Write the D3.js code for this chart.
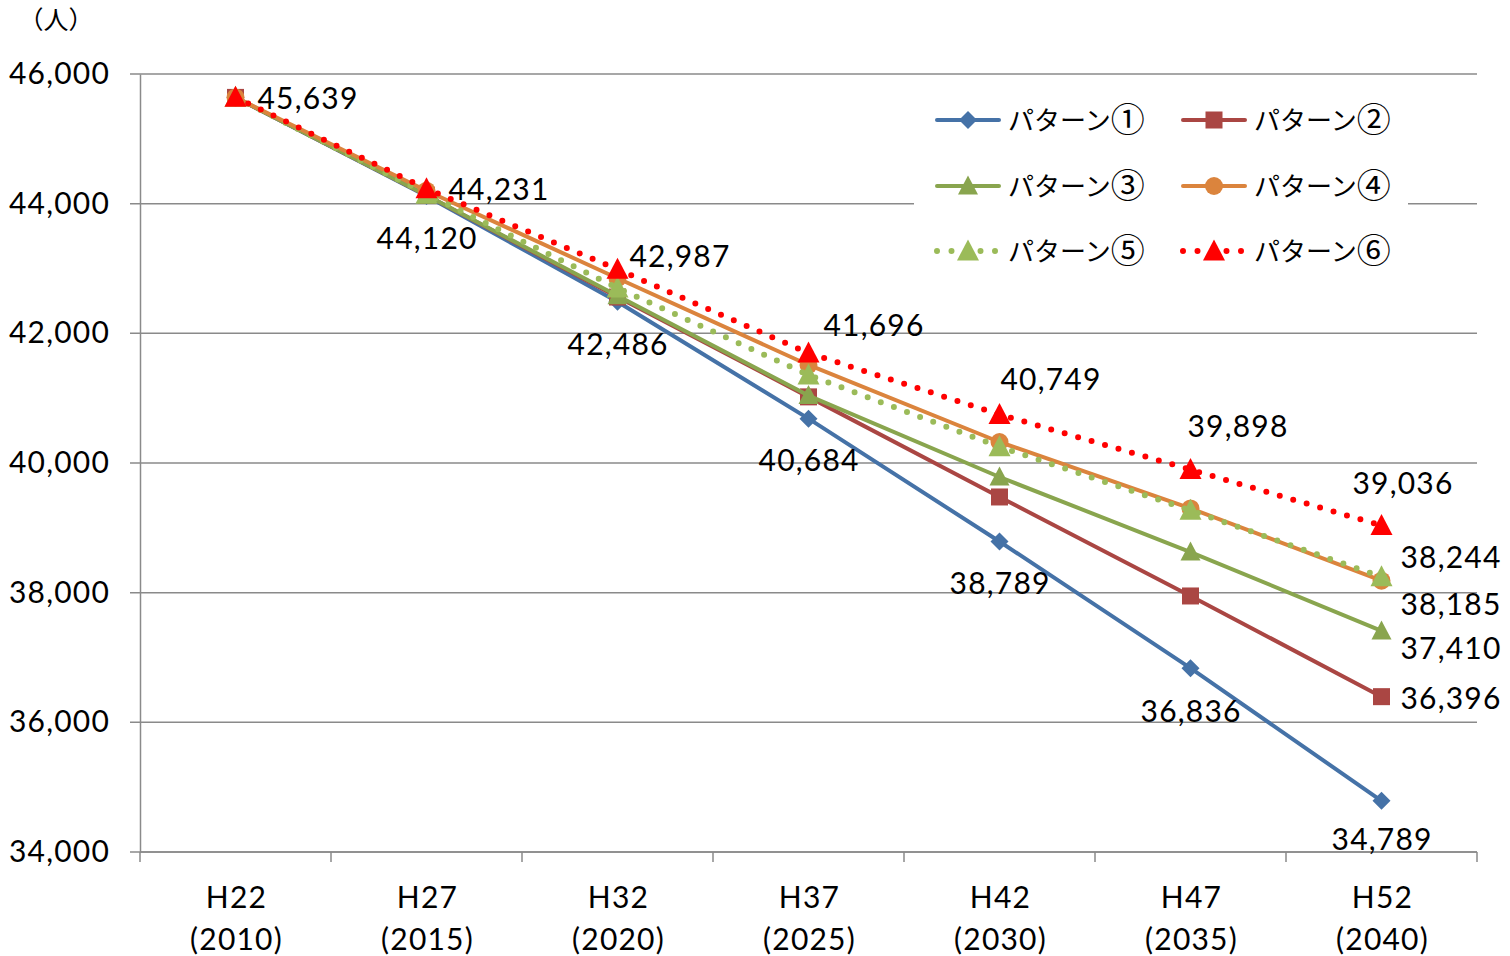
<!DOCTYPE html>
<html><head><meta charset="utf-8">
<script src="https://cdn.jsdelivr.net/npm/d3@7"></script>
<style>
html,body{margin:0;padding:0;background:#fff;}
svg{display:block;}
</style></head>
<body>
<svg id="chart" width="1510" height="956"></svg>
<script>
// ---- data ----
const categories = ["H22","H27","H32","H37","H42","H47","H52"];
const years = ["(2010)","(2015)","(2020)","(2025)","(2030)","(2035)","(2040)"];
const seriesNames = ["パターン①","パターン②","パターン③","パターン④","パターン⑤","パターン⑥"];
const pattern1 = [45639,44120,42486,40684,38789,36836,34789];
const pattern2 = [45639,44130,42560,41020,39476,37949,36396];
const pattern3 = [45639,44130,42580,41040,39784,38627,37410];
const pattern4 = [45639,44200,42850,41512,40324,39300,38185];
const pattern5 = [45639,44150,42700,41358,40250,39270,38244];
const pattern6 = [45639,44231,42987,41696,40749,39898,39036];
const yTicks = [34000,36000,38000,40000,42000,44000,46000];
const unitLabel = "（人）";

// ---- styles ----
const styles = [
  {color:"#4572A7", dotted:false, marker:"diamond"},
  {color:"#AA4643", dotted:false, marker:"square"},
  {color:"#89A54E", dotted:false, marker:"triangleS"},
  {color:"#DB843D", dotted:false, marker:"circle"},
  {color:"#9BBB59", dotted:true,  marker:"triangle"},
  {color:"#FF0000", dotted:true,  marker:"triangle"}
];
const allSeries = [pattern1,pattern2,pattern3,pattern4,pattern5,pattern6];

// label layout: [seriesIndex, pointIndex, dx, dy, anchor]
const labelLayout = [
  [5,0,22,1,"start"],[5,1,22,1,"start"],[5,2,12,-13,"start"],[5,3,15,-28,"start"],
  [5,4,1,-35,"start"],[5,5,-3,-43,"start"],[5,6,-29,-42,"start"],
  [0,1,0,42,"middle"],[0,2,0,42,"middle"],[0,3,0,42,"middle"],[0,4,0,42,"middle"],
  [0,5,0,43,"middle"],[0,6,0,38,"middle"],
  [4,6,19,-20,"start"],[3,6,19,24,"start"],[2,6,19,17,"start"],[1,6,19,2,"start"]
];

const svg = d3.select("#chart");
const L = 140, R = 1477, T = 74, B = 852;
const x = d3.scaleBand().domain(categories).range([L,R]).padding(0);
const y = d3.scaleLinear().domain([34000,46000]).range([B,T]);
const cx = c => x(c) + x.bandwidth()/2;
const numFmt = d3.format(",");
const FONT = "Lato, 'Open Sans', sans-serif";
const JFONT = "'Noto Sans CJK JP', sans-serif";
const GRID = "#8a8a8a";
const LS = "1.2px";

// gridlines
svg.append("g").selectAll("line").data(yTicks).join("line")
  .attr("x1",L-10).attr("x2",R).attr("y1",d=>y(d)).attr("y2",d=>y(d))
  .attr("stroke",GRID).attr("stroke-width",1.5);

// y axis
const yAxis = d3.axisLeft(y).tickValues(yTicks).tickFormat(numFmt).tickSize(0).tickPadding(30);
const gy = svg.append("g").attr("transform",`translate(${L},0)`).call(yAxis);
gy.select(".domain").attr("stroke",GRID).attr("stroke-width",1.5);
gy.selectAll("text").attr("font-family",FONT).attr("font-size",30).attr("letter-spacing",LS).attr("fill","#000");

// x axis
const gx = svg.append("g").attr("transform",`translate(0,${B})`);
gx.append("line").attr("x1",L).attr("x2",R).attr("y1",0).attr("y2",0).attr("stroke",GRID).attr("stroke-width",1.5);
const bounds = categories.map(c=>x(c)).concat([R]);
gx.selectAll("line.tk").data(bounds).join("line").attr("class","tk")
  .attr("x1",d=>d).attr("x2",d=>d).attr("y1",0).attr("y2",10)
  .attr("stroke",GRID).attr("stroke-width",1.5);
const xt = gx.selectAll("text.cat").data(categories).join("text").attr("class","cat")
  .attr("x",d=>cx(d)).attr("text-anchor","middle")
  .attr("font-family",FONT).attr("font-size",30).attr("letter-spacing",LS).attr("fill","#000");
xt.append("tspan").attr("x",d=>cx(d)+1).attr("y",56).text(d=>d);
xt.append("tspan").attr("x",d=>cx(d)+1).attr("y",98).text((d,i)=>years[i]);

// unit label
svg.append("text").attr("x",56).attr("y",29).attr("text-anchor","middle")
  .attr("font-family",JFONT).attr("font-size",25).attr("fill","#000").text(unitLabel);

// marker function
function drawMarker(g, type, px, py, color){
  if(type==="diamond"){
    const s=9;
    g.append("path").attr("d",`M${px},${py-s}L${px+s},${py}L${px},${py+s}L${px-s},${py}Z`).attr("fill",color);
  } else if(type==="square"){
    const s=8.5;
    g.append("rect").attr("x",px-s).attr("y",py-s).attr("width",2*s).attr("height",2*s).attr("fill",color);
  } else if(type==="circle"){
    g.append("circle").attr("cx",px).attr("cy",py).attr("r",9).attr("fill",color);
  } else {
    const w = type==="triangleS"?10:11, h = type==="triangleS"?19:21;
    g.append("path").attr("d",`M${px},${py-h*0.55}L${px+w},${py+h*0.45}L${px-w},${py+h*0.45}Z`).attr("fill",color);
  }
}

// legend background
svg.append("rect").attr("x",914).attr("y",92).attr("width",494).attr("height",184).attr("fill","#fff");

// series
const line = d3.line().x((d,i)=>cx(categories[i])).y(d=>y(d));
allSeries.forEach((vals,si)=>{
  const st = styles[si];
  const g = svg.append("g");
  const p = g.append("path").attr("d",line(vals)).attr("fill","none").attr("stroke",st.color);
  if(st.dotted){
    p.attr("stroke-width",6).attr("stroke-linecap","round").attr("stroke-dasharray","0,14");
  } else {
    p.attr("stroke-width",4).attr("stroke-linejoin","round");
  }
  vals.forEach((v,i)=>drawMarker(g, st.marker, cx(categories[i]), y(v), st.color));
});

// data labels
svg.append("g").selectAll("text").data(labelLayout).join("text")
  .attr("x",d=>cx(categories[d[1]])+d[2]+(d[4]==="middle"?0.6:0))
  .attr("y",d=>y(allSeries[d[0]][d[1]])+d[3])
  .attr("dy","0.36em")
  .attr("text-anchor",d=>d[4])
  .attr("font-family",FONT).attr("font-size",30).attr("letter-spacing",LS).attr("fill","#000")
  .text(d=>numFmt(allSeries[d[0]][d[1]]));

// legend
const legPos = [[935,120],[1181,120],[935,186],[1181,186],[935,251],[1181,251]];
seriesNames.forEach((name,si)=>{
  const st = styles[si];
  const [lx,ly] = legPos[si];
  const g = svg.append("g");
  const p = g.append("line").attr("x1",lx+2).attr("x2",lx+64).attr("y1",ly).attr("y2",ly).attr("stroke",st.color);
  if(st.dotted){
    p.attr("stroke-width",6).attr("stroke-linecap","round").attr("stroke-dasharray","0,14.5");
  } else {
    p.attr("stroke-width",4).attr("stroke-linecap","round");
  }
  drawMarker(g, st.marker, lx+33, ly, st.color);
  const t = g.append("text").attr("x",lx+73).attr("y",ly+10)
    .attr("font-family",JFONT).attr("font-size",26).attr("fill","#000");
  t.append("tspan").text(name.slice(0,-1));
  t.append("tspan").attr("font-size",34).attr("dy",2).text(name.slice(-1));
});
</script>
</body></html>
